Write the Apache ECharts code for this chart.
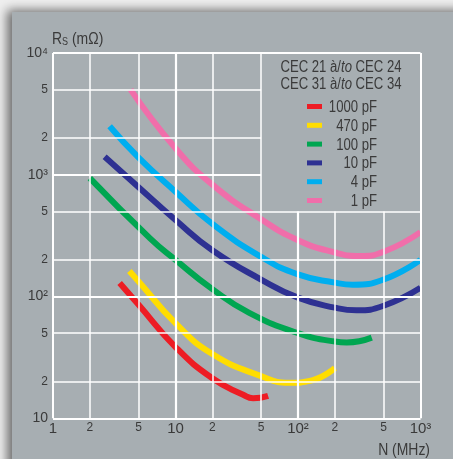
<!DOCTYPE html>
<html>
<head>
<meta charset="utf-8">
<script src="https://cdn.jsdelivr.net/npm/echarts@6/dist/echarts.min.js"></script>
<style>
  html, body { margin: 0; padding: 0; background: #efefef; }
  #panel { position: absolute; left: 12px; top: 12px; width: 460px; height: 460px;
           background: #a7aeb2; box-shadow: -5px -2px 10px rgba(0,0,0,0.55); }
  #chart { position: absolute; left: 0; top: 0; width: 453px; height: 459px; }
</style>
</head>
<body>
<div id="panel"></div>
<div id="chart"></div>
<script>
// ---- tick values and labels ----
const xTicks = [1, 2, 5, 10, 20, 50, 100, 200, 500, 1000];
const xTickLabels = ['1', '2', '5', '10', '2', '5', '10²', '2', '5', '10³'];
const yTicks = [10, 20, 50, 100, 200, 500, 1000, 2000, 5000, 10000];
const yTickLabels = ['10', '2', '5', '10²', '2', '5', '10³', '2', '5', '10⁴'];

// legend box area (in data units)
const legendBoxX = [50, 1000];
const legendBoxY = [500, 10000];

const legendHeader = ['CEC 21 à/{i|to} CEC 24', 'CEC 31 à/{i|to} CEC 34'];

// ---- series (N in MHz, Rs in mΩ) ----
const names = ['1000 pF', '470 pF', '100 pF', '10 pF', '4 pF', '1 pF'];
const colors = ['#ed1c24', '#ffdd00', '#00a651', '#2e3192', '#00aeef', '#f06eaa'];

const f1000pF = [3.5, 5, 10, 20, 35.7, 43, 57];
const r1000pF = [129, 85.5, 38.5, 21.3, 15.6, 14.6, 15.3];

const f470pF = [4.2, 5, 10, 20, 50, 85, 130, 200];
const r470pF = [162, 133, 60.4, 33.7, 22.2, 19.6, 20.5, 25.9];

const f100pF = [2, 6.2, 10, 20, 40, 100, 200, 250, 400];
const r100pF = [939, 300, 200, 115, 73.5, 50, 42.7, 42, 46];

const f10pF = [2.64, 5, 10, 20, 50, 100, 200, 300, 500, 1000];
const r10pF = [1406, 791, 425, 240, 138, 98, 81, 77, 84, 118];

const f4pF = [2.9, 5, 10, 20, 50, 100, 200, 280, 500, 1000];
const r4pF = [2500, 1380, 725, 395, 212, 152, 130, 125, 138, 200];

const f1pF = [4.3, 10, 20, 50, 100, 200, 320, 500, 1000];
const r1pF = [5000, 1650, 830, 431, 290, 230, 215, 233, 338];

const freqs = [f1000pF, f470pF, f100pF, f10pF, f4pF, f1pF];
const values = [r1000pF, r470pF, r100pF, r10pF, r4pF, r1pF];

// ---- styling ----
const FONT = '"Liberation Sans", Arial, sans-serif';
const TXT = '#3a3a3a';
const NARROW = 0.82;

const chart = echarts.init(document.getElementById('chart'), null, { renderer: 'canvas' });

const xMin = xTicks[0], xMax = xTicks[xTicks.length - 1];
const yMin = yTicks[0], yMax = yTicks[yTicks.length - 1];

function isDecade(v) { return Math.abs(Math.log10(v) - Math.round(Math.log10(v))) < 1e-9; }

const gridLines = [];
xTicks.forEach((v, i) => {
  const dec = isDecade(v);
  const inBox = v > legendBoxX[0] && v < legendBoxX[1];
  const top = inBox ? legendBoxY[0] : yMax;
  gridLines.push([
    { coord: [v, yMin],
      lineStyle: { width: (i === 0 || i === xTicks.length - 1) ? 2 : (dec ? 2.2 : 1.5) },
      label: { show: true, position: 'start', distance: 3, formatter: xTickLabels[i],
               fontSize: dec ? 15 : 12, color: TXT, fontFamily: FONT } },
    { coord: [v, top] }
  ]);
});
yTicks.forEach((v, i) => {
  const dec = isDecade(v);
  const inBox = v > legendBoxY[0] && v < legendBoxY[1];
  const right = inBox ? legendBoxX[0] : xMax;
  gridLines.push([
    { coord: [xMin, v],
      lineStyle: { width: (i === 0 || i === yTicks.length - 1) ? 2 : (dec ? 2.2 : 1.5) },
      label: { show: true, position: 'start', distance: 5, formatter: yTickLabels[i],
               fontSize: dec ? 14 : 12, color: TXT, fontFamily: FONT } },
    { coord: [right, v] }
  ]);
});

const series = [{
  type: 'line',
  data: [],
  z: 1,
  silent: true,
  markLine: {
    silent: true,
    symbol: ['none', 'none'],
    animation: false,
    lineStyle: { color: '#ffffff', type: 'solid', width: 1.5 },
    emphasis: { disabled: true },
    data: gridLines
  }
}];
names.forEach((n, k) => {
  series.push({
    name: n,
    type: 'line',
    z: 3,
    data: freqs[k].map((f, i) => [f, values[k][i]]),
    showSymbol: false,
    symbol: 'none',
    smooth: 0.5,
    silent: true,
    lineStyle: { color: colors[k], width: 6, cap: 'butt' }
  });
});

// legend + titles as graphic text
const graphics = [];
legendHeader.forEach((t, i) => {
  graphics.push({
    type: 'text', x: 341, y: 68 + i * 16.5, scaleX: NARROW, silent: true,
    style: {
      text: t, fill: TXT, font: '16px ' + FONT, align: 'center', verticalAlign: 'middle',
      rich: { i: { fontStyle: 'italic', fontSize: 16, fontFamily: FONT, fill: TXT } }
    }
  });
});
names.forEach((n, k) => {
  const y = 106.5 + k * 18.8;
  graphics.push({
    type: 'rect', silent: true, shape: { x: 307, y: y - 2.5, width: 15, height: 5 },
    style: { fill: colors[k] }
  });
  graphics.push({
    type: 'text', silent: true, x: 377, y: y + 1, scaleX: NARROW,
    style: { text: n, fill: TXT, font: '16px ' + FONT, align: 'right', verticalAlign: 'middle' }
  });
});
graphics.push({
  type: 'text', silent: true, x: 52, y: 39, scaleX: NARROW,
  style: {
    text: '{r|R}{s|S}{r| (mΩ)}', align: 'left', verticalAlign: 'middle',
    rich: {
      r: { fontSize: 17, fontFamily: FONT, fill: TXT },
      s: { fontSize: 11, fontFamily: FONT, fill: TXT, verticalAlign: 'bottom' }
    }
  }
});
graphics.push({
  type: 'text', silent: true, x: 430, y: 450, scaleX: NARROW,
  style: { text: 'N (MHz)', fill: TXT, font: '17px ' + FONT, align: 'right', verticalAlign: 'middle' }
});

chart.setOption({
  backgroundColor: 'transparent',
  animation: false,
  grid: { left: 53, top: 53, right: 32.5, bottom: 40.7, containLabel: false },
  xAxis: {
    type: 'log', logBase: 10, min: xMin, max: xMax,
    axisLine: { show: false }, axisTick: { show: false },
    axisLabel: { show: false }, splitLine: { show: false }
  },
  yAxis: {
    type: 'log', logBase: 10, min: yMin, max: yMax,
    axisLine: { show: false }, axisTick: { show: false },
    axisLabel: { show: false }, splitLine: { show: false }
  },
  series: series,
  graphic: { elements: graphics }
});
</script>
</body>
</html>
